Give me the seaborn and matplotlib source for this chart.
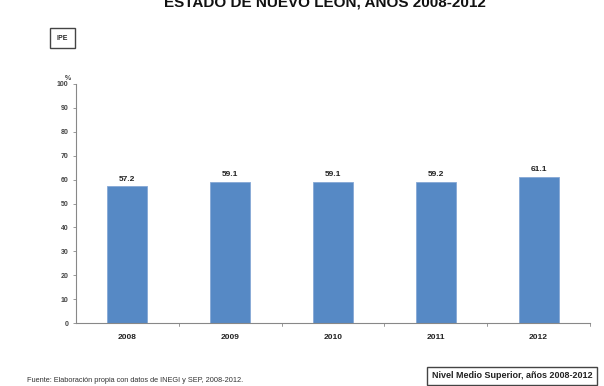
import matplotlib
matplotlib.use('Agg')
import matplotlib.pyplot as plt
import seaborn as sns
import pandas as pd

years = ['2008', '2009', '2010', '2011', '2012']
values = [57.2, 59.1, 59.1, 59.2, 61.1]
y_ticks = list(range(0, 101, 10))

title = 'ESTADO DE NUEVO LEÓN, AÑOS 2008-2012'
source = 'Fuente: Elaboración propia con datos de INEGI y SEP, 2008-2012.'
level = 'Nivel Medio Superior, años 2008-2012'

sns.set_style('white')
plt.rcParams['font.family'] = ['Liberation Sans', 'DejaVu Sans']

df = pd.DataFrame({'year': years, 'value': values})

fig = plt.figure(figsize=(6.04, 3.86), dpi=100)
ax = fig.add_axes([76 / 604, 1 - 323 / 386, 514 / 604, 239 / 386])

sns.barplot(data=df, x='year', y='value', color='#5689C5', width=0.39,
            edgecolor='#86A8D6', linewidth=0.6, saturation=1, ax=ax)

for i, v in enumerate(values):
    ax.text(i, v + 1.5, f'{v:.1f}', ha='center', va='bottom',
            fontsize=6, fontweight='bold', color='#222222')

ax.set_ylim(0, 100)
ax.set_xlim(-0.5, len(years) - 0.5)
ax.set_yticks(y_ticks)
ax.set_yticklabels([str(t) for t in y_ticks], fontsize=5, fontweight='bold',
                   color='#444444')
ax.set_xticks(range(len(years)))
ax.set_xticklabels(years, fontsize=6, fontweight='bold', color='#222222')
ax.tick_params(axis='x', length=0, pad=8)
ax.tick_params(axis='y', length=2.5, width=0.6, color='#888888', pad=3, left=True)
for b in [0.5, 1.5, 2.5, 3.5, 4.5]:
    ax.plot([b, b], [0, -1.2], color='#888888', lw=0.6, clip_on=False)
ax.set_xlabel('')
ax.set_ylabel('')
sns.despine(ax=ax, top=True, right=True)
for side in ['left', 'bottom']:
    ax.spines[side].set_color('#888888')
    ax.spines[side].set_linewidth(0.8)

ax.text(-0.01, 1.01, '%', transform=ax.transAxes, fontsize=5, fontweight='bold',
        color='#444444', ha='right', va='bottom')

fig.text(325 / 604, 1 - 2 / 386, title, ha='center', va='center',
         fontsize=11, fontweight='bold', color='#111111')

fig.text(62.5 / 604, 1 - 38 / 386, 'IPE', ha='center', va='center', fontsize=5,
         fontweight='bold', color='#222222',
         bbox=dict(boxstyle='square,pad=1.0', fc='white', ec='#444444', lw=1.0))

fig.text(512 / 604, 1 - 376 / 386, level, ha='center', va='center', fontsize=6.5,
         fontweight='bold', color='#222222',
         bbox=dict(boxstyle='square,pad=0.55', fc='white', ec='#444444', lw=1.0))

fig.text(27 / 604, 1 - 381 / 386, source, ha='left', va='center', fontsize=5.3,
         color='#333333')

fig.savefig('out.png', dpi=100)
